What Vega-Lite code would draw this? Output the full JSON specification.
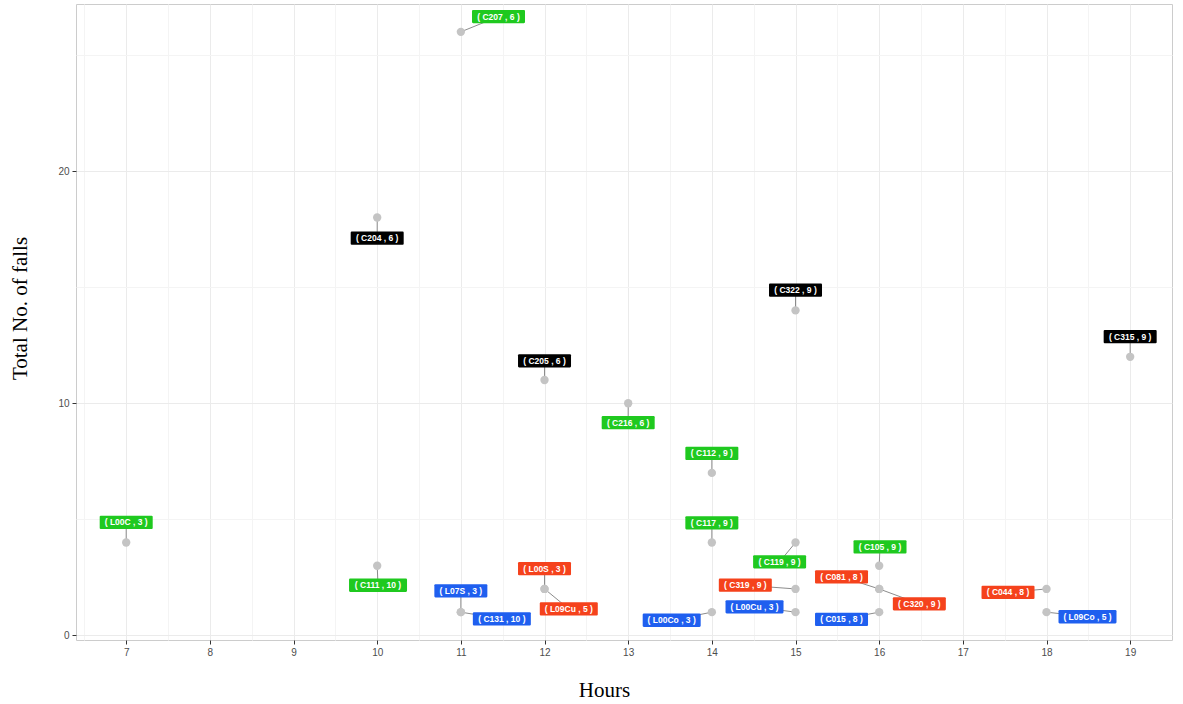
{
  "$schema": "https://vega.github.io/schema/vega-lite/v6.json",
  "autosize": {"type": "none"},
  "width": 1096,
  "height": 636,
  "padding": {"left": 76, "top": 4, "right": 11, "bottom": 64},
  "background": "white",
  "config": {"view": {"stroke": "#cccccc", "strokeWidth": 1}},
  "data": {"values": [
    {"hour": 7, "falls": 4, "label": "( L00C , 3 )", "cat": "G", "lx": 7.0, "ly": 4.87},
    {"hour": 10, "falls": 18, "label": "( C204 , 6 )", "cat": "K", "lx": 10.0, "ly": 17.11},
    {"hour": 10, "falls": 3, "label": "( C111 , 10 )", "cat": "G", "lx": 10.01, "ly": 2.16},
    {"hour": 11, "falls": 26, "label": "( C207 , 6 )", "cat": "G", "lx": 11.45, "ly": 26.66},
    {"hour": 11, "falls": 1, "label": "( L07S , 3 )", "cat": "B", "lx": 11.0, "ly": 1.92},
    {"hour": 11, "falls": 1, "label": "( C131 , 10 )", "cat": "B", "lx": 11.49, "ly": 0.71},
    {"hour": 12, "falls": 11, "label": "( C205 , 6 )", "cat": "K", "lx": 12.0, "ly": 11.83},
    {"hour": 12, "falls": 2, "label": "( L00S , 3 )", "cat": "R", "lx": 12.0, "ly": 2.87},
    {"hour": 12, "falls": 2, "label": "( L09Cu , 5 )", "cat": "R", "lx": 12.29, "ly": 1.14},
    {"hour": 13, "falls": 10, "label": "( C216 , 6 )", "cat": "G", "lx": 13.0, "ly": 9.16},
    {"hour": 14, "falls": 7, "label": "( C112 , 9 )", "cat": "G", "lx": 14.0, "ly": 7.84},
    {"hour": 14, "falls": 4, "label": "( C117 , 9 )", "cat": "G", "lx": 14.0, "ly": 4.85},
    {"hour": 14, "falls": 1, "label": "( L00Co , 3 )", "cat": "B", "lx": 13.52, "ly": 0.65},
    {"hour": 15, "falls": 14, "label": "( C322 , 9 )", "cat": "K", "lx": 15.0, "ly": 14.87},
    {"hour": 15, "falls": 4, "label": "( C119 , 9 )", "cat": "G", "lx": 14.81, "ly": 3.17},
    {"hour": 15, "falls": 2, "label": "( C319 , 9 )", "cat": "R", "lx": 14.40, "ly": 2.16},
    {"hour": 15, "falls": 1, "label": "( L00Cu , 3 )", "cat": "B", "lx": 14.51, "ly": 1.23},
    {"hour": 16, "falls": 3, "label": "( C105 , 9 )", "cat": "G", "lx": 16.01, "ly": 3.81},
    {"hour": 16, "falls": 2, "label": "( C081 , 8 )", "cat": "R", "lx": 15.55, "ly": 2.52},
    {"hour": 16, "falls": 2, "label": "( C320 , 9 )", "cat": "R", "lx": 16.48, "ly": 1.36},
    {"hour": 16, "falls": 1, "label": "( C015 , 8 )", "cat": "B", "lx": 15.55, "ly": 0.69},
    {"hour": 18, "falls": 2, "label": "( C044 , 8 )", "cat": "R", "lx": 17.54, "ly": 1.85},
    {"hour": 18, "falls": 1, "label": "( L09Co , 5 )", "cat": "B", "lx": 18.49, "ly": 0.80},
    {"hour": 19, "falls": 12, "label": "( C315 , 9 )", "cat": "K", "lx": 19.0, "ly": 12.87}
  ]},
  "resolve": {"axis": {"x": "independent", "y": "independent"}},
  "layer": [
    {
      "mark": {"type": "rule", "color": "#8c8c8c", "strokeWidth": 1},
      "encoding": {
        "x": {"field": "hour", "type": "quantitative",
              "scale": {"domain": [6.4, 19.5], "nice": false, "zero": false},
              "axis": {"orient": "top", "values": [6.5, 7.5, 8.5, 9.5, 10.5, 11.5, 12.5, 13.5, 14.5, 15.5, 16.5, 17.5, 18.5],
                       "labels": false, "ticks": false, "domain": false, "title": null,
                       "grid": true, "gridColor": "#f4f4f4", "gridWidth": 1}},
        "y": {"field": "falls", "type": "quantitative",
              "scale": {"domain": [-0.2, 27.2], "nice": false, "zero": false},
              "axis": {"orient": "right", "values": [5, 15, 25],
                       "labels": false, "ticks": false, "domain": false, "title": null,
                       "grid": true, "gridColor": "#f4f4f4", "gridWidth": 1}},
        "x2": {"field": "lx"},
        "y2": {"field": "ly"}
      }
    },
    {
      "mark": {"type": "circle", "color": "#c4c4c4", "opacity": 1, "size": 70},
      "encoding": {
        "x": {"field": "hour", "type": "quantitative",
              "axis": {"values": [7, 8, 9, 10, 11, 12, 13, 14, 15, 16, 17, 18, 19],
                       "title": "Hours", "titleFont": "Liberation Serif", "titleFontSize": 21,
                       "titleFontWeight": "normal", "titleColor": "#000000",
                       "titleX": 528, "titleY": 50, "titleBaseline": "middle", "titleAlign": "center",
                       "labelFont": "Liberation Sans", "labelFontSize": 10, "labelColor": "#4d4d4d",
                       "tickColor": "#333333", "tickSize": 4, "labelPadding": 3,
                       "domain": false, "grid": true, "gridColor": "#ebebeb", "gridWidth": 1}},
        "y": {"field": "falls", "type": "quantitative",
              "axis": {"values": [0, 10, 20],
                       "title": "Total No. of falls", "titleFont": "Liberation Serif", "titleFontSize": 21,
                       "titleFontWeight": "normal", "titleColor": "#000000",
                       "titleX": -56, "titleY": 304, "titleBaseline": "middle", "titleAlign": "center",
                       "labelFont": "Liberation Sans", "labelFontSize": 10, "labelColor": "#4d4d4d",
                       "tickColor": "#333333", "tickSize": 4, "labelPadding": 3,
                       "domain": false, "grid": true, "gridColor": "#ebebeb", "gridWidth": 1}}
      }
    },
    {
      "transform": [{"filter": "length(datum.label) <= 12"}],
      "mark": {"type": "point", "filled": true, "opacity": 1, "size": 2809,
               "shape": "M-0.96,-0.25L0.96,-0.25Q1,-0.25 1,-0.21L1,0.21Q1,0.25 0.96,0.25L-0.96,0.25Q-1,0.25 -1,0.21L-1,-0.21Q-1,-0.25 -0.96,-0.25Z"},
      "encoding": {
        "x": {"field": "lx", "type": "quantitative", "axis": null},
        "y": {"field": "ly", "type": "quantitative", "axis": null},
        "color": {"field": "cat", "type": "nominal", "legend": null,
                  "scale": {"domain": ["G", "K", "R", "B"], "range": ["#1fc91f", "#000000", "#f5421c", "#1f5fef"]}}
      }
    },
    {
      "transform": [{"filter": "length(datum.label) > 12"}],
      "mark": {"type": "point", "filled": true, "opacity": 1, "size": 3364,
               "shape": "M-0.96,-0.23L0.96,-0.23Q1,-0.23 1,-0.19L1,0.19Q1,0.23 0.96,0.23L-0.96,0.23Q-1,0.23 -1,0.19L-1,-0.19Q-1,-0.23 -0.96,-0.23Z"},
      "encoding": {
        "x": {"field": "lx", "type": "quantitative", "axis": null},
        "y": {"field": "ly", "type": "quantitative", "axis": null},
        "color": {"field": "cat", "type": "nominal", "legend": null}
      }
    },
    {
      "mark": {"type": "text", "color": "white", "font": "Liberation Sans", "fontSize": 8.5,
               "fontWeight": "bold", "align": "center", "baseline": "middle"},
      "encoding": {
        "x": {"field": "lx", "type": "quantitative", "axis": null},
        "y": {"field": "ly", "type": "quantitative", "axis": null},
        "text": {"field": "label", "type": "nominal"}
      }
    }
  ]
}
